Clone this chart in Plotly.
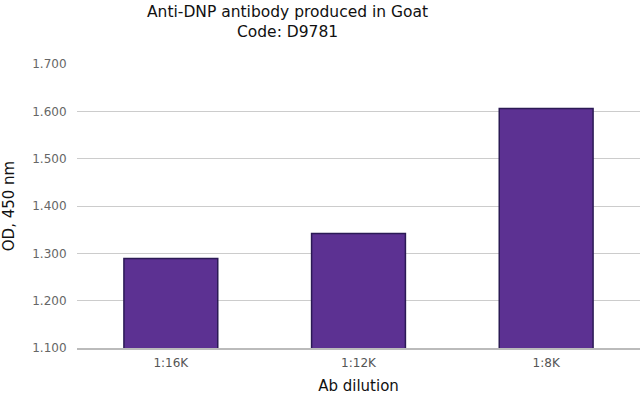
import plotly.graph_objects as go

categories = ["1:16K", "1:12K", "1:8K"]
od_values = [1.289, 1.342, 1.606]
y_ticks = [1.1, 1.2, 1.3, 1.4, 1.5, 1.6, 1.7]
y_tick_labels = ["1.100", "1.200", "1.300", "1.400", "1.500", "1.600", "1.700"]

fig = go.Figure(go.Bar(
    x=categories, y=od_values,
    marker=dict(color="#5c3192", line=dict(color="#2b1a55", width=1.5)),
))

fig.update_layout(
    width=640, height=396,
    margin=dict(l=77, r=0, t=64, b=48),
    plot_bgcolor="white", paper_bgcolor="white",
    font=dict(family="DejaVu Sans, Verdana, sans-serif"),
    bargap=0.5,
    showlegend=False,
    annotations=[dict(
        text="Anti-DNP antibody produced in Goat<br>Code: D9781",
        xref="paper", yref="paper",
        x=(287 - 77) / 563, y=1 + 63 / 284,
        xanchor="center", yanchor="top", showarrow=False,
        font=dict(size=15.5, color="#111111"),
    )],
    xaxis=dict(
        title=dict(text="Ab dilution", font=dict(size=15, color="#111111"), standoff=11),
        tickfont=dict(size=12, color="#555555"),
        showline=True, linecolor="#bbbbbb", linewidth=1.5,
        ticks="outside", ticklen=3, tickcolor="rgba(0,0,0,0)", showgrid=False,
    ),
    yaxis=dict(
        title=dict(text="OD, 450 nm", font=dict(size=15, color="#111111"), standoff=14),
        range=[1.1, 1.7],
        tickvals=y_ticks, ticktext=y_tick_labels,
        tickfont=dict(size=12, color="#666666"),
        showgrid=True, gridcolor="#cccccc", gridwidth=1,
        zeroline=False, ticks="outside", ticklen=7, tickcolor="rgba(0,0,0,0)",
    ),
)

fig.write_html("out.html", post_script="document.body.style.margin='0';",
               config={"displayModeBar": False})
